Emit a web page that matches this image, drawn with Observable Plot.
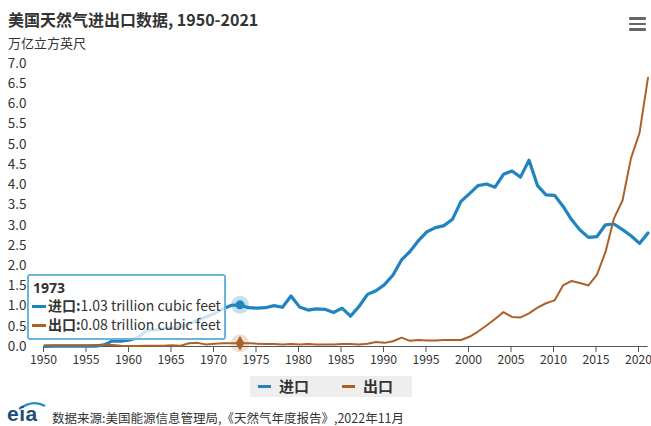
<!DOCTYPE html>
<html><head><meta charset="utf-8">
<script src="https://cdn.jsdelivr.net/npm/d3@7"></script>
<script src="https://cdn.jsdelivr.net/npm/@observablehq/plot@0.6"></script>
<style>
html,body{margin:0;padding:0;background:#fff;}
#wrap{position:relative;width:651px;height:426px;overflow:hidden;font-family:"Noto Sans CJK SC","Noto Sans",sans-serif;color:#333;}
.abs{position:absolute;}
#title{left:8px;top:7px;font-size:16px;font-weight:bold;color:#333;white-space:nowrap;}
#sub{left:8px;top:33px;font-size:13px;color:#333;white-space:nowrap;}
#menu{left:629px;top:17px;width:17px;}
#menu div{height:2.5px;background:#666;margin-bottom:3px;border-radius:1px;}
#chart{left:0;top:55px;}
#tip{left:27px;top:274px;width:195px;height:62px;border:2px solid #6cb4da;border-radius:3px;background:rgba(255,255,255,0.78);font-size:14px;color:#333;}
#tip .yr{position:absolute;left:4px;top:5px;font-weight:bold;font-size:14px;line-height:14px;font-family:"Noto Sans",sans-serif;}
#tip .row{position:absolute;left:3px;white-space:nowrap;line-height:16px;}
#tip b{font-weight:bold;}
.sw{display:inline-block;width:14px;height:3px;vertical-align:middle;margin-right:2px;position:relative;top:-1px;}
#legend{left:250px;top:376px;width:162px;height:21px;background:#eeeeee;font-size:15px;font-weight:bold;color:#333;}
#legend span.it{position:absolute;top:-1px;white-space:nowrap;}
#foot{left:52px;top:408px;font-size:12.5px;color:#333;white-space:nowrap;}
#logo{left:3px;top:398px;}
</style></head>
<body>
<div id="wrap">
  <div id="title" class="abs">美国天然气进出口数据, 1950-2021</div>
  <div id="sub" class="abs">万亿立方英尺</div>
  <div id="menu" class="abs"><div></div><div></div><div></div></div>
  <div id="chart" class="abs"></div>
  <div id="tip" class="abs"></div>
  <div id="legend" class="abs"></div>
  <svg id="logo" class="abs" width="48" height="28" viewBox="0 0 48 28">
    <path d="M16 11 Q30 1 42 8" fill="none" stroke="#2a8ac4" stroke-width="2.4"/>
    <text x="4" y="23" font-family="Liberation Sans, sans-serif" font-size="21" font-weight="bold" fill="#1d4f77" letter-spacing="0.5">eia</text>
  </svg>
  <div id="foot" class="abs">数据来源:美国能源信息管理局,《天然气年度报告》,2022年11月</div>
</div>
<script>
const years = d3.range(1950, 2022);
const seriesNames = ["进口", "出口"];
const imports = [0.00,0.01,0.01,0.01,0.01,0.01,0.01,0.04,0.14,0.13,
                 0.16,0.22,0.40,0.41,0.44,0.46,0.48,0.56,0.65,0.73,
                 0.82,0.93,1.02,1.03,0.96,0.95,0.96,1.01,0.97,1.25,
                 0.98,0.90,0.93,0.92,0.84,0.95,0.75,0.99,1.29,1.38,
                 1.53,1.77,2.14,2.35,2.62,2.84,2.94,2.99,3.15,3.59,
                 3.78,3.98,4.02,3.94,4.26,4.34,4.19,4.61,3.98,3.75,
                 3.74,3.47,3.14,2.88,2.70,2.72,3.01,3.03,2.89,2.74,
                 2.55,2.81];
const exportsV = [0.03,0.03,0.03,0.03,0.03,0.03,0.04,0.04,0.04,0.02,
                  0.01,0.01,0.02,0.02,0.02,0.03,0.02,0.08,0.09,0.05,
                  0.07,0.08,0.08,0.08,0.08,0.07,0.06,0.06,0.05,0.06,
                  0.05,0.06,0.05,0.05,0.05,0.06,0.06,0.05,0.07,0.11,
                  0.09,0.13,0.22,0.14,0.16,0.15,0.15,0.16,0.16,0.16,
                  0.24,0.37,0.52,0.68,0.85,0.73,0.72,0.82,0.96,1.07,
                  1.14,1.51,1.62,1.57,1.51,1.78,2.34,3.17,3.61,4.66,
                  5.28,6.65];
const xTicks = d3.range(1950, 2021, 5);
const yTicks = d3.range(0, 14.5).map(i => i * 0.5);
const tipYear = 1973;
const unit = "trillion cubic feet";

const colors = {"进口": "#1f84bf", "出口": "#ad6128"};
const impData = years.map((y, i) => ({year: y, value: imports[i]}));
const expData = years.map((y, i) => ({year: y, value: exportsV[i]}));
const ti = years.indexOf(tipYear);
const impTip = [impData[ti]], expTip = [expData[ti]];

const chart = Plot.plot({
  width: 651, height: 317,
  marginLeft: 44, marginRight: 3.5, marginTop: 8, marginBottom: 26,
  style: {fontFamily: '"Noto Sans CJK SC","Noto Sans",sans-serif', fontSize: "13px", color: "#333", background: "transparent", overflow: "visible"},
  x: {domain: [1950, 2021], label: null},
  y: {domain: [0, 7], label: null},
  marks: [
    Plot.gridY(yTicks.filter(d => d > 0), {stroke: "#e3e3e3", strokeOpacity: 1, strokeWidth: 1.5, x1: 40, x2: 648}),
    Plot.axisY({ticks: yTicks, tickFormat: d3.format(".1f"), tickSize: 0, tickPadding: 18, fontSize: 13.5, fill: "#333"}),
    Plot.axisX({ticks: xTicks, tickFormat: d => String(d), tickSize: 6, tickPadding: 3, fontSize: 12.2, dx: -1, stroke: "#555", fill: "#333"}),
    Plot.ruleY([0], {stroke: "#555", strokeWidth: 1.2}),
    Plot.line(impData, {x: "year", y: "value", stroke: colors["进口"], strokeWidth: 3.2, strokeLinejoin: "round"}),
    Plot.line(expData, {x: "year", y: "value", stroke: colors["出口"], strokeWidth: 2, strokeLinejoin: "round"}),
    Plot.dot(impTip, {x: "year", y: "value", r: 9, fill: colors["进口"], fillOpacity: 0.25}),
    Plot.dot(impTip, {x: "year", y: "value", r: 4.5, fill: colors["进口"]}),
    Plot.dot(expTip, {x: "year", y: "value", r: 9, fill: colors["出口"], fillOpacity: 0.2}),
    Plot.dot(expTip, {x: "year", y: "value", r: 4.5, symbol: "diamond", fill: colors["出口"]})
  ]
});
document.getElementById("chart").appendChild(chart);

const tip = document.getElementById("tip");
tip.innerHTML = `<div class="yr">${tipYear}</div>` +
  `<div class="row" style="top:21px"><span class="sw" style="background:${colors["进口"]}"></span><b>${seriesNames[0]}:</b>${imports[ti].toFixed(2)} ${unit}</div>` +
  `<div class="row" style="top:40px"><span class="sw" style="background:${colors["出口"]}"></span><b>${seriesNames[1]}:</b>${exportsV[ti].toFixed(2)} ${unit}</div>`;

const lg = document.getElementById("legend");
lg.innerHTML = `<span class="it" style="left:8px"><span class="sw" style="background:${colors["进口"]};width:13px;margin-right:8px"></span>${seriesNames[0]}</span>` +
  `<span class="it" style="left:92px"><span class="sw" style="background:${colors["出口"]};width:13px;margin-right:8px"></span>${seriesNames[1]}</span>`;
</script>
</body></html>
